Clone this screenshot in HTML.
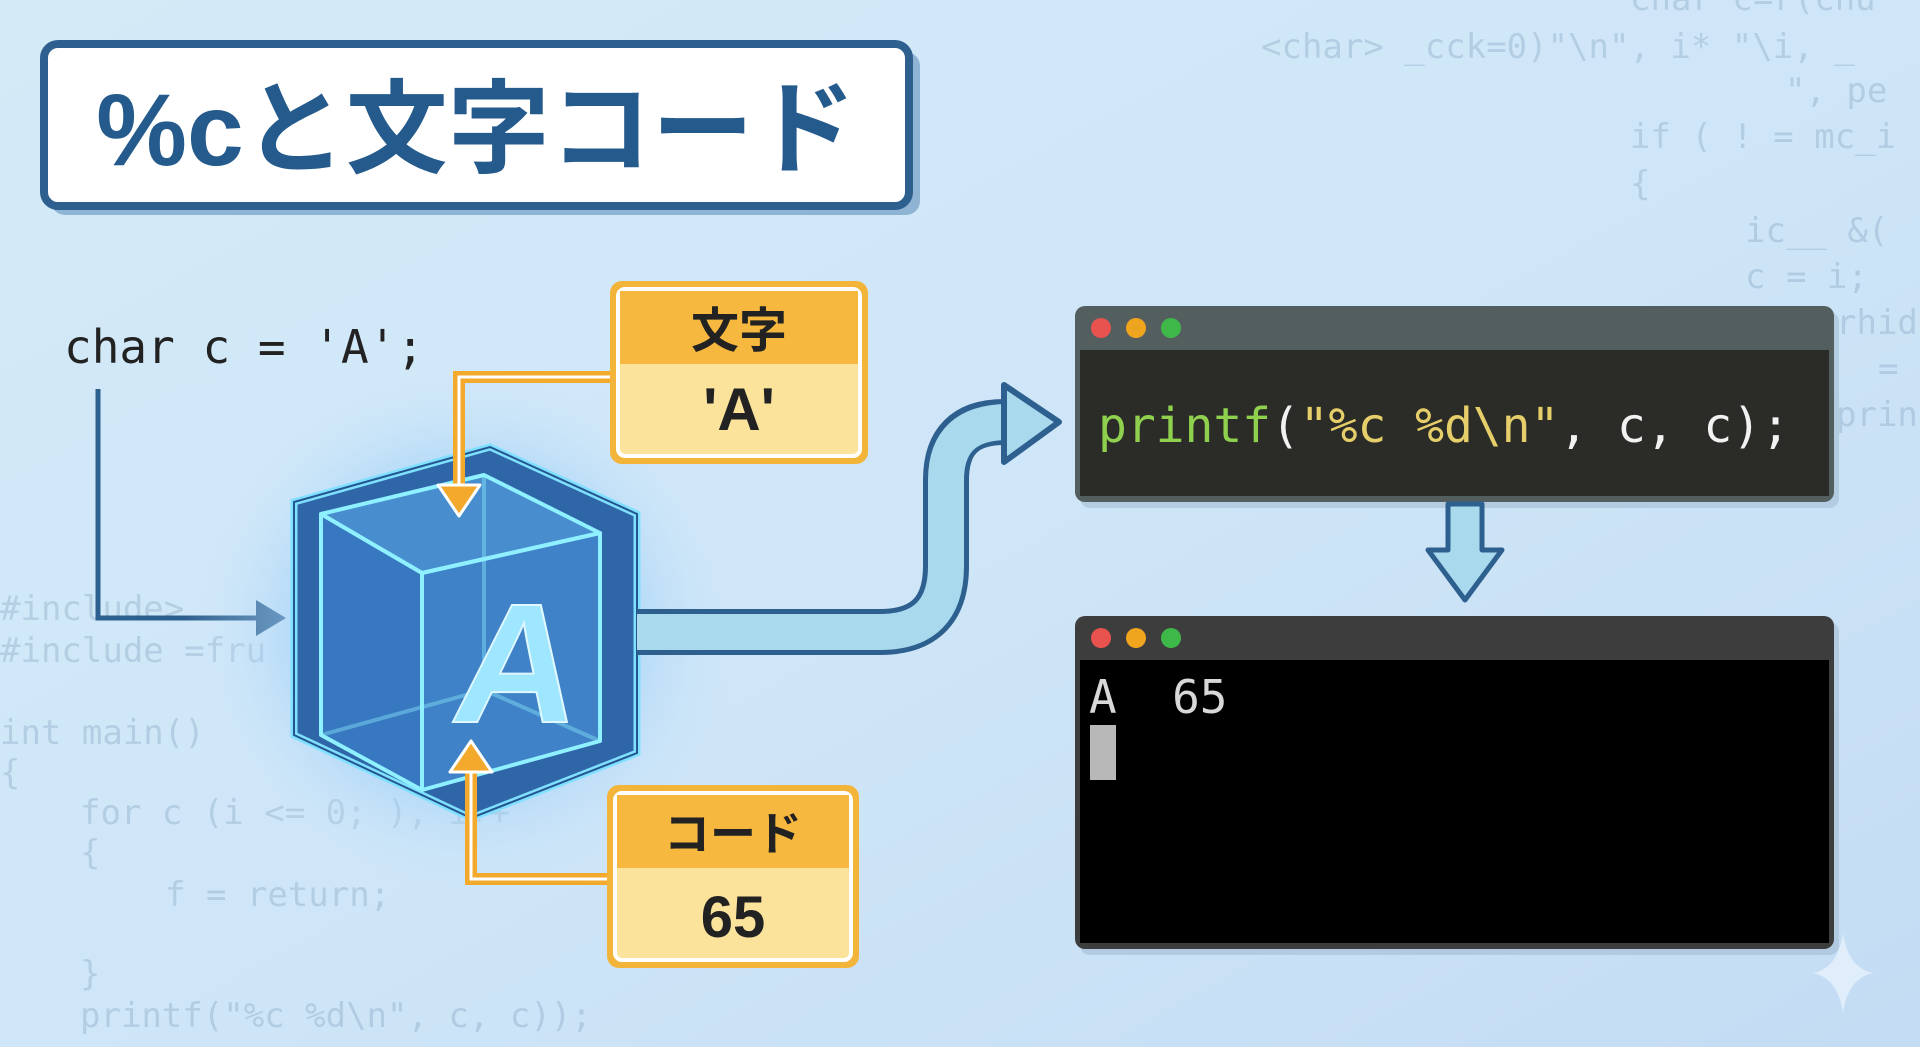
<!DOCTYPE html>
<html><head><meta charset="utf-8"><style>
html,body{margin:0;padding:0;width:1920px;height:1047px;overflow:hidden}
svg{display:block}
</style></head><body>
<svg width="1920" height="1047" viewBox="0 0 1920 1047" xmlns="http://www.w3.org/2000/svg">
<defs>
<linearGradient id="bg" x1="0" y1="0" x2="1" y2="1">
<stop offset="0" stop-color="#d3eaf7"/><stop offset="0.5" stop-color="#cfe6f8"/><stop offset="1" stop-color="#c4dcf3"/>
</linearGradient>
<radialGradient id="glow" cx="0.5" cy="0.5" r="0.5">
<stop offset="0" stop-color="#6fb8f5" stop-opacity="0.95"/><stop offset="0.6" stop-color="#9fd0f7" stop-opacity="0.55"/><stop offset="1" stop-color="#cfe6f8" stop-opacity="0"/>
</radialGradient>
</defs>
<rect width="1920" height="1047" fill="url(#bg)"/>

<g font-family="DejaVu Sans Mono, Liberation Mono, monospace" fill="#7f9fba" fill-opacity="0.35" font-size="34">
<text x="1630" y="10">char c=r(chu</text>
<text x="1261" y="58">&lt;char&gt; _cck=0)"\n", i* "\i, _</text>
<text x="1785" y="102">",  pe</text>
<text x="1630" y="148">if ( ! = mc_i</text>
<text x="1630" y="195">{</text>
<text x="1745" y="242">ic__ &amp;(</text>
<text x="1745" y="288">c = i;</text>
<text x="1836" y="334">rhid</text>
<text x="1878" y="380">=</text>
<text x="1836" y="426">prin</text>
<text x="0" y="620">#include&gt;</text>
<text x="0" y="662">#include =fru</text>
<text x="0" y="744">int main()</text>
<text x="0" y="784">{</text>
<text x="80" y="824">for c (i &lt;= 0;   ), i++</text>
<text x="80" y="864">{</text>
<text x="165" y="906">f = return;</text>
<text x="80" y="985">}</text>
<text x="80" y="1027">printf("%c %d\n",  c, c));</text>
</g>

<rect x="51" y="52" width="869" height="163" rx="14" fill="#8fb3d3"/>
<rect x="44" y="44" width="865" height="162" rx="14" fill="#fff" stroke="#2d5f8f" stroke-width="8"/>
<text x="476" y="165" text-anchor="middle" font-family="Liberation Sans, Noto Sans CJK JP, sans-serif" font-weight="bold" font-size="102" fill="#245a8c">%cと文字コード</text>

<text x="64" y="363" font-family="DejaVu Sans Mono, Liberation Mono, monospace" font-size="46" fill="#222">char c = 'A';</text>
<path d="M98,389 V618 H262" fill="none" stroke="#2d5f8f" stroke-width="5"/>
<polygon points="256,600 286,618 256,636" fill="#2d5f8f"/>

<ellipse cx="465" cy="630" rx="280" ry="270" fill="url(#glow)"/>
<polygon points="490,447 637,514 637,753 471,818 294,735 294,502" fill="#2f66a8" stroke="#7fe0ff" stroke-width="7"/>
<polygon points="490,447 637,514 637,753 471,818 294,735 294,502" fill="none" stroke="#24558f" stroke-width="2"/>
<g stroke="#8ff0ff" stroke-width="4" fill="none" stroke-linejoin="round">
<polygon points="484,475 600,533 422,573 321,514" fill="#5aa6e8" fill-opacity="0.6"/>
<polygon points="321,514 422,573 422,790 321,735" fill="#3d84d0" fill-opacity="0.6"/>
<polygon points="422,573 600,533 600,741 422,790" fill="#4b95dc" fill-opacity="0.6"/>
<path d="M484,475 V690 M321,735 L484,690 L600,741" stroke-opacity="0.4"/>
</g>
<text x="510" y="722" font-family="Liberation Sans, sans-serif" font-weight="bold" font-size="170" fill="#9fe6ff" stroke="#dff8ff" stroke-width="2" text-anchor="middle" transform="translate(510 722) skewX(-8) translate(-510 -722)">A</text>

<path d="M637,632 H880 Q946,632 946,566 V480 Q946,422 1004,422" fill="none" stroke="#2d5f8f" stroke-width="46"/>
<path d="M637,632 H880 Q946,632 946,566 V480 Q946,422 1008,422" fill="none" stroke="#a9d9ec" stroke-width="36"/>
<polygon points="1004,385 1059,422 1004,462" fill="#a9d9ec" stroke="#2d5f8f" stroke-width="6" stroke-linejoin="round"/>

<path d="M612,377 H459 V490" fill="none" stroke="#f3a92c" stroke-width="12"/>
<path d="M612,377 H459 V490" fill="none" stroke="#fff" stroke-width="3"/>
<polygon points="438,485 480,485 459,516" fill="#f3a92c" stroke="#fff" stroke-width="3" stroke-linejoin="round"/>
<rect x="610" y="281" width="258" height="183" rx="12" fill="#f3b43a"/>
<rect x="618" y="289" width="242" height="167" rx="7" fill="#fbe39c" stroke="#fff" stroke-width="4"/>
<path d="M620,291 H858 V364 H620 Z" fill="#f6b83e"/>
<text x="739" y="347" text-anchor="middle" font-family="Liberation Sans, Noto Sans CJK JP, sans-serif" font-weight="bold" font-size="48" fill="#222">文字</text>
<text x="739" y="430" text-anchor="middle" font-family="Liberation Sans, sans-serif" font-weight="bold" font-size="60" fill="#222">'A'</text>

<path d="M612,879 H471 V768" fill="none" stroke="#f3a92c" stroke-width="12"/>
<path d="M612,879 H471 V768" fill="none" stroke="#fff" stroke-width="3"/>
<polygon points="450,772 492,772 471,741" fill="#f3a92c" stroke="#fff" stroke-width="3" stroke-linejoin="round"/>
<rect x="607" y="785" width="252" height="183" rx="12" fill="#f3b43a"/>
<rect x="615" y="793" width="236" height="167" rx="7" fill="#fbe39c" stroke="#fff" stroke-width="4"/>
<path d="M617,795 H849 V868 H617 Z" fill="#f6b83e"/>
<text x="733" y="850" text-anchor="middle" font-family="Liberation Sans, Noto Sans CJK JP, sans-serif" font-weight="bold" font-size="46" fill="#222">コード</text>
<text x="733" y="937" text-anchor="middle" font-family="Liberation Sans, sans-serif" font-weight="bold" font-size="58" fill="#222">65</text>

<rect x="1080" y="312" width="759" height="196" rx="10" fill="#9bb5cc" opacity="0.5"/>
<rect x="1075" y="306" width="759" height="196" rx="10" fill="#535f5e"/>
<rect x="1080" y="350" width="749" height="146" fill="#2b2c27"/>
<circle cx="1101" cy="328" r="10" fill="#e8534f"/>
<circle cx="1136" cy="328" r="10" fill="#f0a51f"/>
<circle cx="1171" cy="328" r="10" fill="#3fb84a"/>
<text x="1098" y="442" font-family="DejaVu Sans Mono, Liberation Mono, monospace" font-size="48" fill="#f2f2f2" textLength="692"><tspan fill="#8fd14f">printf</tspan>(<tspan fill="#e6cf6a">"%c %d\n"</tspan>, c, c);</text>

<polygon points="1448,504 1448,550 1428,550 1465,600 1502,550 1482,550 1482,504" fill="#a9d9ec" stroke="#2d5f8f" stroke-width="5" stroke-linejoin="round"/>

<rect x="1080" y="622" width="759" height="333" rx="10" fill="#9bb5cc" opacity="0.5"/>
<rect x="1075" y="616" width="759" height="333" rx="10" fill="#3d3d3d"/>
<rect x="1080" y="660" width="749" height="283" fill="#000"/>
<circle cx="1101" cy="638" r="10" fill="#e8534f"/>
<circle cx="1136" cy="638" r="10" fill="#f0a51f"/>
<circle cx="1171" cy="638" r="10" fill="#3fb84a"/>
<text x="1089" y="713" font-family="DejaVu Sans Mono, Liberation Mono, monospace" font-size="46" fill="#d8d8d8" xml:space="preserve">A  65</text>
<rect x="1090" y="725" width="26" height="55" fill="#b8b8b8"/>

<path d="M1843,933 Q1848,968 1873,973 Q1848,978 1843,1013 Q1838,978 1813,973 Q1838,968 1843,933 Z" fill="#e6f2fc" opacity="0.8"/>
</svg>
</body></html>
